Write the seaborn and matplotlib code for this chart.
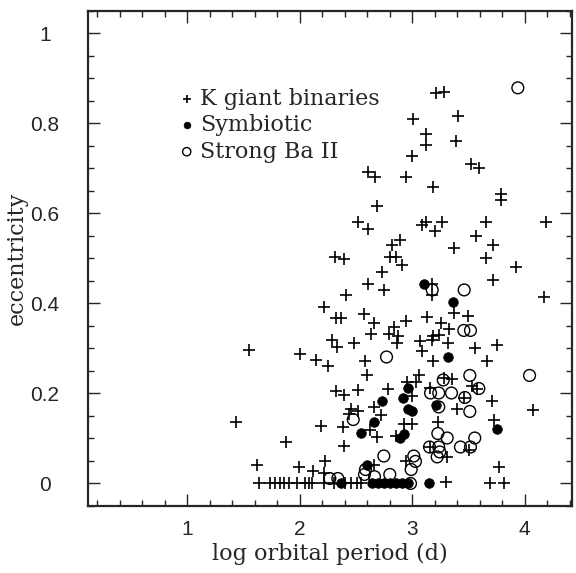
import matplotlib
matplotlib.use("Agg")
import matplotlib.pyplot as plt
import seaborn as sns
import numpy as np
from matplotlib.ticker import MultipleLocator

# --- data: log P (d) and eccentricity ---
kgiant_logp = [3.216, 3.281, 3.405, 3.005, 3.127, 3.127, 3.385, 2.994, 3.527, 3.592,
               2.609, 2.668, 2.947, 3.183, 3.785, 3.785, 2.689, 2.516, 2.603, 3.089,
               3.127, 3.267, 3.207, 3.652, 4.191, 3.563, 2.822, 2.892, 3.714, 3.370,
               2.312, 2.392, 2.807, 2.852, 2.911, 3.652, 3.927, 2.730, 2.607, 2.747,
               3.716, 4.170, 2.414, 3.180, 3.180, 2.214, 2.321, 2.363, 2.576, 3.376,
               3.496, 2.665, 2.841, 2.949, 3.133, 3.254, 3.330, 2.636, 2.798, 2.876,
               3.188, 3.241, 2.283, 2.330, 2.481, 2.869, 3.068, 3.178, 3.318, 3.556,
               3.756, 1.548, 2.001, 2.149, 2.254, 2.579, 3.091, 3.184, 3.667, 2.600,
               3.059, 3.287, 3.358, 2.516, 2.787, 2.956, 3.038, 3.154, 3.533, 3.578,
               2.327, 2.392, 3.000, 3.459, 3.705, 4.072, 2.452, 2.518, 2.436, 2.659,
               2.724, 3.394, 1.438, 2.194, 2.383, 3.228, 3.725, 2.623, 2.689, 2.852,
               2.925, 3.000, 1.878, 2.398, 3.154, 3.503, 3.311, 2.949, 2.659, 3.770,
               1.620, 1.992, 2.116, 2.229, 2.220,
               1.636, 1.740, 1.784, 1.829, 1.864, 1.903, 1.977, 2.051, 2.081, 2.111,
               2.214, 2.303, 2.407, 2.457, 2.511, 2.546, 3.304, 3.690, 3.814]
kgiant_ecc = [0.868, 0.870, 0.817, 0.810, 0.776, 0.751, 0.760, 0.728, 0.710, 0.700,
              0.691, 0.680, 0.681, 0.658, 0.643, 0.630, 0.617, 0.580, 0.566, 0.575,
              0.582, 0.581, 0.561, 0.581, 0.581, 0.549, 0.529, 0.542, 0.529, 0.523,
              0.504, 0.499, 0.504, 0.503, 0.485, 0.500, 0.482, 0.470, 0.444, 0.429,
              0.452, 0.414, 0.418, 0.444, 0.419, 0.393, 0.367, 0.368, 0.376, 0.379,
              0.372, 0.356, 0.347, 0.361, 0.369, 0.356, 0.344, 0.333, 0.332, 0.327,
              0.327, 0.330, 0.318, 0.303, 0.311, 0.312, 0.316, 0.318, 0.313, 0.302,
              0.307, 0.296, 0.288, 0.274, 0.261, 0.273, 0.295, 0.272, 0.273, 0.240,
              0.240, 0.235, 0.233, 0.207, 0.209, 0.226, 0.226, 0.211, 0.217, 0.209,
              0.206, 0.197, 0.195, 0.190, 0.184, 0.164, 0.165, 0.161, 0.155, 0.170,
              0.153, 0.166, 0.136, 0.128, 0.126, 0.137, 0.142, 0.118, 0.104, 0.105,
              0.131, 0.131, 0.092, 0.084, 0.081, 0.074, 0.059, 0.049, 0.042, 0.036,
              0.041, 0.036, 0.028, 0.049, 0.023,
              0.0, 0.0, 0.0, 0.0, 0.0, 0.0, 0.0, 0.0, 0.0, 0.0,
              0.0, 0.0, 0.0, 0.0, 0.0, 0.0, 0.004, 0.0, 0.0]

symb_logp = [3.103, 3.361, 3.320, 2.963, 2.733, 2.920, 2.960, 3.000, 3.216, 2.659,
             3.756, 2.547, 2.890, 2.925, 2.600, 2.363, 3.147,
             2.646, 2.700, 2.753, 2.807, 2.860, 2.913, 2.966]
symb_ecc = [0.444, 0.404, 0.281, 0.213, 0.184, 0.190, 0.166, 0.160, 0.174, 0.137,
            0.122, 0.112, 0.101, 0.109, 0.042, 0.0, 0.0,
            0.0, 0.0, 0.0, 0.0, 0.0, 0.0, 0.0]

ba_logp = [3.939, 3.178, 3.462, 3.459, 3.518, 2.772, 3.276, 3.512, 4.043, 3.163,
           3.236, 3.349, 3.592, 3.468, 3.236, 3.512, 2.476, 3.228, 3.311, 3.556,
           3.429, 3.518, 3.154, 3.236, 3.245, 3.222, 2.748, 3.014, 3.029, 2.991,
           2.585, 2.576, 2.665, 2.801, 2.268, 2.339, 2.985]
ba_ecc = [0.879, 0.430, 0.430, 0.340, 0.340, 0.281, 0.230, 0.240, 0.240, 0.201,
          0.201, 0.201, 0.211, 0.191, 0.170, 0.160, 0.142, 0.111, 0.101, 0.101,
          0.081, 0.081, 0.081, 0.081, 0.070, 0.059, 0.061, 0.061, 0.049, 0.031,
          0.031, 0.020, 0.015, 0.020, 0.011, 0.011, 0.0]

sns.set_style("ticks")
serif = ["DejaVu Serif"]
plt.rcParams["font.family"] = ["Liberation Sans", "DejaVu Sans"]

fig = plt.figure(figsize=(5.76, 5.73), dpi=100)
ax = fig.add_axes([0.153, 0.117, 0.840, 0.864])

sns.scatterplot(x=kgiant_logp, y=kgiant_ecc, marker="+", s=64, color="black",
                linewidth=1.2, ax=ax, label="K giant binaries")
sns.scatterplot(x=symb_logp, y=symb_ecc, marker="o", s=48, color="black",
                edgecolor="black", linewidth=0.5, ax=ax, label="Symbiotic")
sns.scatterplot(x=ba_logp, y=ba_ecc, marker="o", s=72, facecolor="none",
                edgecolor="black", linewidth=1.0, ax=ax, label="Strong Ba II")

ax.set_xlim(0.12, 4.42)
ax.set_ylim(-0.05, 1.05)
ax.xaxis.set_minor_locator(MultipleLocator(0.2))
ax.yaxis.set_minor_locator(MultipleLocator(0.05))
ax.set_xticks([1, 2, 3, 4], ["1", "2", "3", "4"])
ax.set_yticks([0, 0.2, 0.4, 0.6, 0.8, 1.0], ["0", "0.2", "0.4", "0.6", "0.8", "1"])

for sp in ax.spines.values():
    sp.set_visible(True)
    sp.set_linewidth(1.6)
ax.tick_params(which="both", direction="in", top=True, right=True, width=1.0,
               labelsize=15)
ax.tick_params(axis="x", pad=10)
ax.tick_params(axis="y", pad=31)
for lab in ax.get_yticklabels():
    lab.set_horizontalalignment("center")
ax.tick_params(which="major", length=8.5)
ax.tick_params(which="minor", length=4.2)

ax.set_xlabel("log orbital period (d)", family=serif, fontsize=16, labelpad=3)
ax.set_ylabel("eccentricity", family=serif, fontsize=16, labelpad=2)

leg = ax.legend(loc="upper left", bbox_to_anchor=(0.19, 0.845), frameon=False,
                prop={"family": serif, "size": 16}, markerscale=0.7,
                handlelength=0.6, handletextpad=0.3, labelspacing=0.2,
                borderpad=0, borderaxespad=0)

fig.savefig("out.png", dpi=100)
